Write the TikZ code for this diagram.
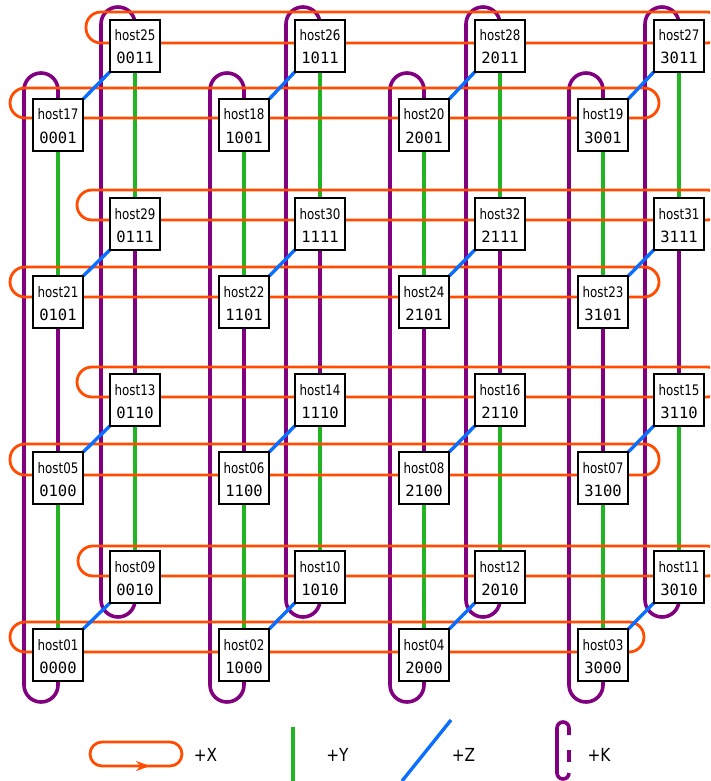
\documentclass[tikz,border=0pt]{standalone}
\usepackage{fontspec}
\usetikzlibrary{calc,arrows.meta}
\newfontfamily\hostfont[FakeStretch=0.82]{DejaVu Sans}
\newfontfamily\codefont{DejaVu Sans Mono}
\newfontfamily\legfont[FakeStretch=0.85]{DejaVu Sans}
\definecolor{xcol}{RGB}{255,76,0}
\definecolor{kcol}{RGB}{128,0,128}
\definecolor{ycol}{RGB}{34,180,34}
\definecolor{zcol}{RGB}{10,110,255}
\pgfdeclarelayer{bg}
\pgfsetlayers{bg,main}
\tikzset{
 hostbox/.style={draw=black, line width=2.4pt, fill=white, minimum width=50.5pt, minimum height=52pt, inner sep=0pt, outer sep=0pt},
 hosttxt/.style={anchor=base, inner sep=0pt, font=\hostfont\fontsize{14.5}{16}\selectfont},
 codetxt/.style={anchor=base, inner sep=0pt, font=\codefont\fontsize{15.5}{17}\selectfont},
 legtxt/.style={anchor=base, inner sep=0pt, font=\legfont\fontsize{18}{20}\selectfont},
 xline/.style={draw=xcol, line width=2.8pt},
 yline/.style={draw=ycol, line width=3.4pt},
 zline/.style={draw=zcol, line width=3.4pt},
 kline/.style={draw=kcol, line width=3.6pt},
}
\newcommand\hostnode[5]{%
 \node[hostbox] (#1) at (#2,#3) {};
 \node[hosttxt] (#1h) at ($(#1.center)+(0,-5)$) {#4};
 \node[codetxt] (#1c) at ($(#1.center)+(0,18)$) {#5};
}
\begin{document}
\begin{tikzpicture}[x=1pt,y=-1pt]
\useasboundingbox (0,0) rectangle (710,781);
% front layer
\hostnode{h17}{58}{125}{host17}{0001}
\hostnode{h18}{244}{125}{host18}{1001}
\hostnode{h20}{424}{125}{host20}{2001}
\hostnode{h19}{603}{125}{host19}{3001}
\hostnode{h21}{58}{302}{host21}{0101}
\hostnode{h22}{244}{302}{host22}{1101}
\hostnode{h24}{424}{302}{host24}{2101}
\hostnode{h23}{603}{302}{host23}{3101}
\hostnode{h05}{58}{478}{host05}{0100}
\hostnode{h06}{244}{478}{host06}{1100}
\hostnode{h08}{424}{478}{host08}{2100}
\hostnode{h07}{603}{478}{host07}{3100}
\hostnode{h01}{58}{655}{host01}{0000}
\hostnode{h02}{244}{655}{host02}{1000}
\hostnode{h04}{424}{655}{host04}{2000}
\hostnode{h03}{603}{655}{host03}{3000}
% back layer
\hostnode{h25}{135}{46}{host25}{0011}
\hostnode{h26}{320}{46}{host26}{1011}
\hostnode{h28}{500}{46}{host28}{2011}
\hostnode{h27}{679}{46}{host27}{3011}
\hostnode{h29}{135}{224}{host29}{0111}
\hostnode{h30}{320}{224}{host30}{1111}
\hostnode{h32}{500}{224}{host32}{2111}
\hostnode{h31}{679}{224}{host31}{3111}
\hostnode{h13}{135}{400}{host13}{0110}
\hostnode{h14}{320}{400}{host14}{1110}
\hostnode{h16}{500}{400}{host16}{2110}
\hostnode{h15}{679}{400}{host15}{3110}
\hostnode{h09}{135}{577}{host09}{0010}
\hostnode{h10}{320}{577}{host10}{1010}
\hostnode{h12}{500}{577}{host12}{2010}
\hostnode{h11}{679}{577}{host11}{3010}

\begin{pgfonlayer}{bg}
\clip (0,0) rectangle (710,781);
% K loops (purple)
\foreach \t/\b in {h17/h01,h18/h02,h20/h04,h19/h03}{
  \draw[kline, rounded corners=17pt] (\t.center) -- ++(0,-52) -- ++(-34,0)
    -- ($(\b.center)+(-34,47)$) -- ($(\b.center)+(0,47)$) -- (\b.center);
}
\foreach \t/\b in {h25/h09,h26/h10,h28/h12,h27/h11}{
  \draw[kline, rounded corners=17pt] (\t.center) -- ++(0,-39) -- ++(-34,0)
    -- ($(\b.center)+(-34,40)$) -- ($(\b.center)+(0,40)$) -- (\b.center);
}
\foreach \a/\b in {h21/h05,h22/h06,h24/h08,h23/h07,h29/h13,h30/h14,h32/h16,h31/h15}{
  \draw[kline] (\a) -- (\b);
}
% Y links (green)
\foreach \a/\b in {h17/h21,h18/h22,h20/h24,h19/h23,h05/h01,h06/h02,h08/h04,h07/h03,
                   h25/h29,h26/h30,h28/h32,h27/h31,h13/h09,h14/h10,h16/h12,h15/h11}{
  \draw[yline] (\a) -- (\b);
}
% X rings (orange)
\draw[xline, rounded corners=15pt] ($(h17.center)+(-48,-37)$) rectangle ($(h19.center)+(56,-7)$);
\draw[xline, rounded corners=15pt] ($(h21.center)+(-48,-35)$) rectangle ($(h23.center)+(56,-5)$);
\draw[xline, rounded corners=15pt] ($(h05.center)+(-48,-34)$) rectangle ($(h07.center)+(56,-3)$);
\draw[xline, rounded corners=15pt] ($(h01.center)+(-48,-33)$) rectangle ($(h03.center)+(41,-3)$);
\draw[xline, rounded corners=15pt] ($(h25.center)+(-49,-34)$) rectangle ($(h27.center)+(43,-3)$);
\draw[xline, rounded corners=15pt] ($(h29.center)+(-58,-34)$) rectangle ($(h31.center)+(43,-4)$);
\draw[xline, rounded corners=15pt] ($(h13.center)+(-58,-33)$) rectangle ($(h15.center)+(43,-3)$);
\draw[xline, rounded corners=15pt] ($(h09.center)+(-57,-31)$) rectangle ($(h11.center)+(43,-1)$);
% Z links (blue)
\foreach \a/\b in {h17/h25,h18/h26,h20/h28,h19/h27,h21/h29,h22/h30,h24/h32,h23/h31,
                   h05/h13,h06/h14,h08/h16,h07/h15,h01/h09,h02/h10,h04/h12,h03/h11}{
  \draw[zline] (\a.north east) -- (\b.south west);
}
\end{pgfonlayer}

% legend
\coordinate (lxa) at (90,742);
\coordinate (lxb) at (182,766);
\coordinate (lxs) at (128,766);
\coordinate (lxe) at (150,766);
\draw[xline, rounded corners=12pt] (lxa) rectangle (lxb);
\draw[xline, -{Stealth[length=14pt,width=10pt]}] (lxs) -- (lxe);
\node[legtxt] (lX) at (205.5,761.5) {+X};
\coordinate (lya) at (293,727);
\coordinate (lyb) at (293,785);
\draw[yline] (lya) -- (lyb);
\node[legtxt] (lY) at (337.5,761.5) {+Y};
\coordinate (lza) at (402,781);
\coordinate (lzb) at (451,720);
\draw[zline] (lza) -- (lzb);
\node[legtxt] (lZ) at (463.5,761.5) {+Z};
\coordinate (lka) at (569,735);
\coordinate (lkb) at (569,773);
\coordinate (lkc) at (569,750);
\coordinate (lkd) at (569,762);
\draw[kline, rounded corners=6pt] (lka) -- (569,722) -- (557,722) -- (557,779) -- (569,779) -- (lkb);
\draw[kline] (lkc) -- (lkd);
\node[legtxt] (lK) at (599,761.5) {+K};
\end{tikzpicture}
\end{document}
